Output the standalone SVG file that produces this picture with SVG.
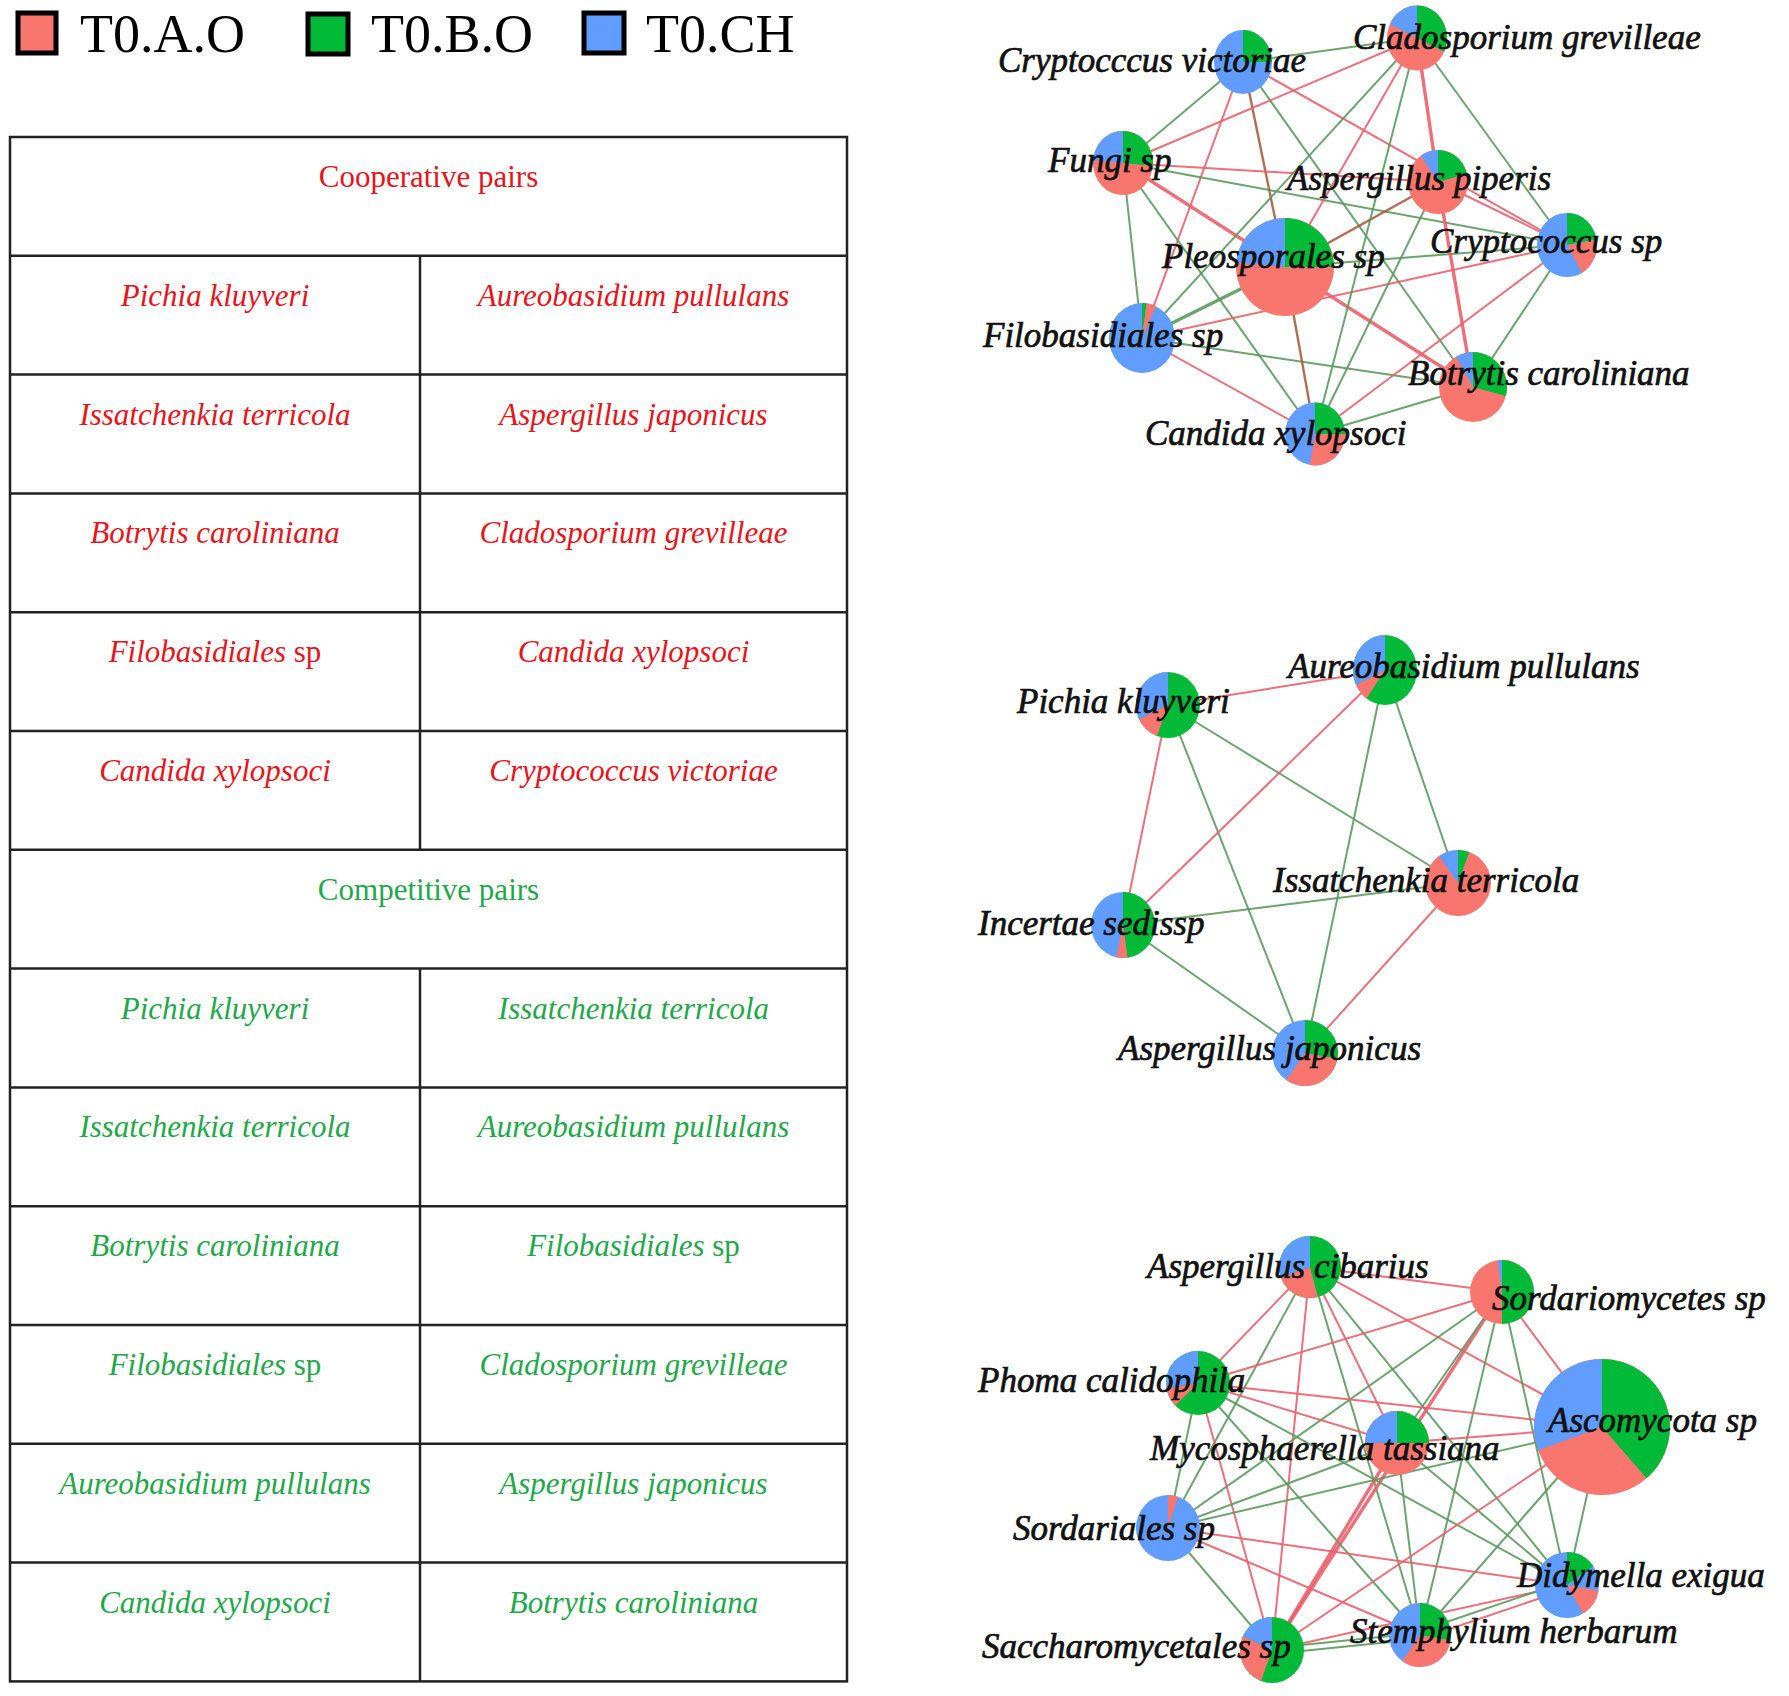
<svg xmlns="http://www.w3.org/2000/svg" width="1789" height="1696" viewBox="0 0 1789 1696">
<style>
.bg{fill:#ffffff}
.leg{stroke:#000;stroke-width:5}
.legt{font-family:"Liberation Serif","Times New Roman",serif;font-size:54px;fill:#000}
.grid{stroke:#222;stroke-width:2.5;fill:none}
.th{font-family:"Liberation Serif","Times New Roman",serif;font-size:31px;text-anchor:middle}
.td{font-family:"Liberation Serif","Times New Roman",serif;font-size:31px;font-style:italic;text-anchor:middle}
.up{font-style:normal}
.red{fill:#e8141c}
.grn{fill:#1fa84a}
.R{fill:#F8766D}
.G{fill:#00BA38}
.B{fill:#619CFF}
.lbl{font-family:"Liberation Serif","Times New Roman",serif;font-size:35px;font-style:italic;fill:#111;stroke:#111;stroke-width:0.7}
.eg{stroke:#5b9a5e;stroke-width:2;fill:none;stroke-opacity:0.9}
.er{stroke:#ea5f6b;stroke-width:2;fill:none;stroke-opacity:0.9}
.eb{stroke:#a5603f;stroke-width:2.4;fill:none;stroke-opacity:0.9}
.tk{stroke-width:3.4}
</style>
<rect class="bg" x="0" y="0" width="1789" height="1696"/>

<g id="legend">
<rect class="leg R" x="18" y="13" width="38" height="40"/>
<text class="legt" x="80" y="52">T0.A.O</text>
<rect class="leg G" x="308" y="14" width="40" height="40"/>
<text class="legt" x="371" y="52">T0.B.O</text>
<rect class="leg B" x="584" y="13" width="40" height="40"/>
<text class="legt" x="646" y="52">T0.CH</text>
</g>

<g id="table">
<rect class="grid" x="10" y="137" width="837" height="1544.4"/>
<line class="grid" x1="10" y1="255.8" x2="847" y2="255.8"/>
<line class="grid" x1="10" y1="374.6" x2="847" y2="374.6"/>
<line class="grid" x1="10" y1="493.4" x2="847" y2="493.4"/>
<line class="grid" x1="10" y1="612.2" x2="847" y2="612.2"/>
<line class="grid" x1="10" y1="731" x2="847" y2="731"/>
<line class="grid" x1="10" y1="849.8" x2="847" y2="849.8"/>
<line class="grid" x1="10" y1="968.6" x2="847" y2="968.6"/>
<line class="grid" x1="10" y1="1087.4" x2="847" y2="1087.4"/>
<line class="grid" x1="10" y1="1206.2" x2="847" y2="1206.2"/>
<line class="grid" x1="10" y1="1325" x2="847" y2="1325"/>
<line class="grid" x1="10" y1="1443.8" x2="847" y2="1443.8"/>
<line class="grid" x1="10" y1="1562.6" x2="847" y2="1562.6"/>
<line class="grid" x1="420" y1="255.8" x2="420" y2="849.8"/>
<line class="grid" x1="420" y1="968.6" x2="420" y2="1681.4"/>

<text class="th red" x="428.5" y="187">Cooperative pairs</text>
<text class="td red" x="215" y="306">Pichia kluyveri</text>
<text class="td red" x="633.5" y="306">Aureobasidium pullulans</text>
<text class="td red" x="215" y="425">Issatchenkia terricola</text>
<text class="td red" x="633.5" y="425">Aspergillus japonicus</text>
<text class="td red" x="215" y="543">Botrytis caroliniana</text>
<text class="td red" x="633.5" y="543">Cladosporium grevilleae</text>
<text class="td red" x="215" y="662">Filobasidiales <tspan class="up">sp</tspan></text>
<text class="td red" x="633.5" y="662">Candida xylopsoci</text>
<text class="td red" x="215" y="781">Candida xylopsoci</text>
<text class="td red" x="633.5" y="781">Cryptococcus victoriae</text>

<text class="th grn" x="428.5" y="900">Competitive pairs</text>
<text class="td grn" x="215" y="1019">Pichia kluyveri</text>
<text class="td grn" x="633.5" y="1019">Issatchenkia terricola</text>
<text class="td grn" x="215" y="1137">Issatchenkia terricola</text>
<text class="td grn" x="633.5" y="1137">Aureobasidium pullulans</text>
<text class="td grn" x="215" y="1256">Botrytis caroliniana</text>
<text class="td grn" x="633.5" y="1256">Filobasidiales <tspan class="up">sp</tspan></text>
<text class="td grn" x="215" y="1375">Filobasidiales <tspan class="up">sp</tspan></text>
<text class="td grn" x="633.5" y="1375">Cladosporium grevilleae</text>
<text class="td grn" x="215" y="1494">Aureobasidium pullulans</text>
<text class="td grn" x="633.5" y="1494">Aspergillus japonicus</text>
<text class="td grn" x="215" y="1613">Candida xylopsoci</text>
<text class="td grn" x="633.5" y="1613">Botrytis caroliniana</text>
</g>

<g id="connectors">
<!-- network 1 -->
<line class="eg" x1="1243" y1="62" x2="1417" y2="38"/>
<line class="eg" x1="1243" y1="62" x2="1123" y2="163"/>
<line class="er" x1="1243" y1="62" x2="1142" y2="338"/>
<line class="eb" x1="1243" y1="62" x2="1285" y2="267"/>
<line class="eg" x1="1243" y1="62" x2="1473" y2="387"/>
<line class="er" x1="1243" y1="62" x2="1567" y2="245"/>
<line class="er" x1="1123" y1="163" x2="1417" y2="38"/>
<line class="er" x1="1123" y1="163" x2="1438" y2="182"/>
<line class="eg" x1="1123" y1="163" x2="1567" y2="245"/>
<line class="er tk" x1="1123" y1="163" x2="1285" y2="267"/>
<line class="eg" x1="1123" y1="163" x2="1315" y2="434"/>
<line class="eg" x1="1123" y1="163" x2="1142" y2="338"/>
<line class="eg" x1="1142" y1="338" x2="1417" y2="38"/>
<line class="eg tk" x1="1142" y1="338" x2="1285" y2="267"/>
<line class="er" x1="1142" y1="338" x2="1567" y2="245"/>
<line class="eg" x1="1142" y1="338" x2="1473" y2="387"/>
<line class="er" x1="1142" y1="338" x2="1315" y2="434"/>
<line class="eb" x1="1285" y1="267" x2="1315" y2="434"/>
<line class="eb" x1="1285" y1="267" x2="1438" y2="182"/>
<line class="er tk" x1="1285" y1="267" x2="1473" y2="387"/>
<line class="eg" x1="1285" y1="267" x2="1567" y2="245"/>
<line class="er" x1="1285" y1="267" x2="1417" y2="38"/>
<line class="er tk" x1="1417" y1="38" x2="1438" y2="182"/>
<line class="eg" x1="1417" y1="38" x2="1567" y2="245"/>
<line class="eg" x1="1417" y1="38" x2="1315" y2="434"/>
<line class="er tk" x1="1438" y1="182" x2="1473" y2="387"/>
<line class="er" x1="1438" y1="182" x2="1567" y2="245"/>
<line class="eg" x1="1438" y1="182" x2="1315" y2="434"/>
<line class="eg" x1="1567" y1="245" x2="1473" y2="387"/>
<line class="er" x1="1567" y1="245" x2="1315" y2="434"/>
<line class="eg" x1="1473" y1="387" x2="1315" y2="434"/>
<!-- network 2 -->
<line class="er" x1="1168" y1="705" x2="1385" y2="670"/>
<line class="er" x1="1168" y1="705" x2="1123" y2="925"/>
<line class="eg" x1="1168" y1="705" x2="1305" y2="1053"/>
<line class="eg" x1="1168" y1="705" x2="1458" y2="883"/>
<line class="er" x1="1385" y1="670" x2="1123" y2="925"/>
<line class="eg" x1="1385" y1="670" x2="1305" y2="1053"/>
<line class="eg" x1="1385" y1="670" x2="1458" y2="883"/>
<line class="eg" x1="1123" y1="925" x2="1458" y2="883"/>
<line class="eg" x1="1123" y1="925" x2="1305" y2="1053"/>
<line class="er" x1="1458" y1="883" x2="1305" y2="1053"/>
<!-- network 3 -->
<line class="er" x1="1310" y1="1267" x2="1502" y2="1292"/>
<line class="er" x1="1310" y1="1267" x2="1198" y2="1383"/>
<line class="eg" x1="1310" y1="1267" x2="1168" y2="1528"/>
<line class="er" x1="1310" y1="1267" x2="1272" y2="1650"/>
<line class="eg" x1="1310" y1="1267" x2="1420" y2="1635"/>
<line class="er" x1="1310" y1="1267" x2="1397" y2="1443"/>
<line class="eg" x1="1310" y1="1267" x2="1567" y2="1585"/>
<line class="er" x1="1310" y1="1267" x2="1602" y2="1427"/>
<line class="er" x1="1502" y1="1292" x2="1198" y2="1383"/>
<line class="eg" x1="1502" y1="1292" x2="1168" y2="1528"/>
<line class="er tk" x1="1502" y1="1292" x2="1272" y2="1650"/>
<line class="eg" x1="1502" y1="1292" x2="1420" y2="1635"/>
<line class="eg" x1="1502" y1="1292" x2="1567" y2="1585"/>
<line class="er" x1="1502" y1="1292" x2="1602" y2="1427"/>
<line class="eg" x1="1502" y1="1292" x2="1397" y2="1443"/>
<line class="er" x1="1198" y1="1383" x2="1602" y2="1427"/>
<line class="er" x1="1198" y1="1383" x2="1397" y2="1443"/>
<line class="eg" x1="1198" y1="1383" x2="1567" y2="1585"/>
<line class="eg" x1="1198" y1="1383" x2="1420" y2="1635"/>
<line class="eg" x1="1198" y1="1383" x2="1168" y2="1528"/>
<line class="er" x1="1198" y1="1383" x2="1272" y2="1650"/>
<line class="er" x1="1397" y1="1443" x2="1602" y2="1427"/>
<line class="eg" x1="1397" y1="1443" x2="1168" y2="1528"/>
<line class="er tk" x1="1397" y1="1443" x2="1272" y2="1650"/>
<line class="eg" x1="1397" y1="1443" x2="1420" y2="1635"/>
<line class="eg" x1="1397" y1="1443" x2="1567" y2="1585"/>
<line class="er" x1="1602" y1="1427" x2="1272" y2="1650"/>
<line class="eg" x1="1602" y1="1427" x2="1420" y2="1635"/>
<line class="eg" x1="1602" y1="1427" x2="1567" y2="1585"/>
<line class="eg" x1="1602" y1="1427" x2="1168" y2="1528"/>
<line class="er" x1="1168" y1="1528" x2="1567" y2="1585"/>
<line class="er" x1="1168" y1="1528" x2="1420" y2="1635"/>
<line class="eg" x1="1168" y1="1528" x2="1272" y2="1650"/>
<line class="eg" x1="1272" y1="1648" x2="1420" y2="1633"/>
<line class="eg" x1="1272" y1="1654" x2="1420" y2="1639"/>
<line class="er" x1="1272" y1="1650" x2="1567" y2="1585"/>
<line class="eg" x1="1420" y1="1631" x2="1567" y2="1581"/>
<line class="er" x1="1420" y1="1639" x2="1567" y2="1589"/>
</g>

<!-- network 1 nodes -->
<g id="n-cv"><g transform="translate(1243,62) scale(1,1.1)"><circle class="B" r="29"/><path class="G" d="M0,0 L0,-29 A29,29 0 0 1 29,0 Z"/></g><text class="lbl" x="998" y="72">Cryptocccus victoriae</text></g>
<g id="n-cg"><g transform="translate(1417,38) scale(1,1.08)"><circle class="R" r="30"/><path class="G" d="M0,0 L0,-30 A30,30 0 0 1 27.2,12.7 Z"/><path class="B" d="M0,0 L-27.2,-12.7 A30,30 0 0 1 0,-30 Z"/></g><text class="lbl" x="1353" y="49">Cladosporium grevilleae</text></g>
<g id="n-f"><g transform="translate(1123,163) scale(1,1.07)"><circle class="R" r="30"/><path class="G" d="M0,0 L0,-30 A30,30 0 0 1 29.9,2.6 Z"/><path class="B" d="M0,0 L-29.9,-2.6 A30,30 0 0 1 0,-30 Z"/></g><text class="lbl" x="1048" y="172">Fungi sp</text></g>
<g id="n-ap"><g transform="translate(1438,182) scale(1,1.07)"><circle class="R" r="30"/><path class="G" d="M0,0 L0,-30 A30,30 0 0 1 29,-7.8 Z"/><path class="B" d="M0,0 L-17.2,-24.6 A30,30 0 0 1 0,-30 Z"/></g><text class="lbl" x="1287" y="190">Aspergillus piperis</text></g>
<g id="n-p"><g transform="translate(1285,267)"><circle class="R" r="49"/><path class="G" d="M0,0 L0,-49 A49,49 0 0 1 49,0 Z"/><path class="B" d="M0,0 L-48.8,-4.3 A49,49 0 0 1 0,-49 Z"/></g><text class="lbl" x="1162" y="268">Pleosporales sp</text></g>
<g id="n-cs"><g transform="translate(1567,245) scale(1,1.07)"><circle class="B" r="30"/><path class="G" d="M0,0 L0,-30 A30,30 0 0 1 29.5,-5.2 Z"/><path class="R" d="M0,0 L29.5,-5.2 A30,30 0 0 1 15,26 Z"/></g><text class="lbl" x="1430" y="253">Cryptococcus sp</text></g>
<g id="n-fb"><g transform="translate(1142,338) scale(1,1.06)"><circle class="B" r="33"/><path class="G" d="M0,0 L0,-33 A33,33 0 0 1 4.6,-32.7 Z"/><path class="R" d="M0,0 L4.6,-32.7 A33,33 0 0 1 13.9,-29.9 Z"/></g><text class="lbl" x="983" y="347">Filobasidiales sp</text></g>
<g id="n-b"><g transform="translate(1473,387) scale(1,1.03)"><circle class="R" r="34"/><path class="G" d="M0,0 L0,-34 A34,34 0 0 1 32.8,8.8 Z"/><path class="B" d="M0,0 L-17,-29.4 A34,34 0 0 1 0,-34 Z"/></g><text class="lbl" x="1408" y="385">Botrytis caroliniana</text></g>
<g id="n-cx"><g transform="translate(1315,434) scale(1,1.05)"><circle class="B" r="30"/><path class="G" d="M0,0 L0,-30 A30,30 0 0 1 30,0 Z"/><path class="R" d="M0,0 L30,0 A30,30 0 0 1 -5.2,29.5 Z"/></g><text class="lbl" x="1145" y="445">Candida xylopsoci</text></g>

<!-- network 2 nodes -->
<g id="n-pk"><g transform="translate(1168,705) scale(1,1.03)"><circle class="G" r="32"/><path class="R" d="M0,0 L-10.9,30.1 A32,32 0 0 1 -29,13.5 Z"/><path class="B" d="M0,0 L-29,13.5 A32,32 0 0 1 0,-32 Z"/></g><text class="lbl" x="1017" y="713">Pichia kluyveri</text></g>
<g id="n-au"><g transform="translate(1385,670) scale(1,1.09)"><circle class="G" r="32"/><path class="R" d="M0,0 L-18.4,26.2 A32,32 0 0 1 -29,13.5 Z"/><path class="B" d="M0,0 L-29,13.5 A32,32 0 0 1 0,-32 Z"/></g><text class="lbl" x="1288" y="678">Aureobasidium pullulans</text></g>
<g id="n-it"><g transform="translate(1458,883)"><circle class="R" r="33"/><path class="G" d="M0,0 L0,-33 A33,33 0 0 1 11.3,-31 Z"/><path class="B" d="M0,0 L-18.9,-27 A33,33 0 0 1 0,-33 Z"/></g><text class="lbl" x="1273" y="892">Issatchenkia terricola</text></g>
<g id="n-is"><g transform="translate(1123,925) scale(1,1.03)"><circle class="B" r="32"/><path class="G" d="M0,0 L0,-32 A32,32 0 0 1 4.5,31.7 Z"/><path class="R" d="M0,0 L4.5,31.7 A32,32 0 0 1 -6.7,31.3 Z"/></g><text class="lbl" x="978" y="935">Incertae sedissp</text></g>
<g id="n-aj"><g transform="translate(1305,1053)"><circle class="B" r="33"/><path class="G" d="M0,0 L0,-33 A33,33 0 0 1 32.5,5.7 Z"/><path class="R" d="M0,0 L32.5,5.7 A33,33 0 0 1 -18.9,27 Z"/></g><text class="lbl" x="1118" y="1060">Aspergillus japonicus</text></g>

<!-- network 3 nodes -->
<g id="n-ac"><g transform="translate(1310,1267)"><circle class="G" r="31"/><path class="R" d="M0,0 L8,29.9 A31,31 0 0 1 -29.1,10.6 Z"/><path class="B" d="M0,0 L-29.1,10.6 A31,31 0 0 1 0,-31 Z"/></g><text class="lbl" x="1147" y="1278">Aspergillus cibarius</text></g>
<g id="n-so"><g transform="translate(1502,1292)"><circle class="R" r="32"/><path class="G" d="M0,-32 A32,32 0 0 1 0,32 Z"/><path class="B" d="M0,0 L-4.5,-31.7 A32,32 0 0 1 0,-32 Z"/></g><text class="lbl" x="1492" y="1310">Sordariomycetes sp</text></g>
<g id="n-pc"><g transform="translate(1198,1383)"><circle class="G" r="32"/><path class="R" d="M0,0 L-22.6,22.6 A32,32 0 0 1 -31.5,5.6 Z"/><path class="B" d="M0,0 L-31.5,5.6 A32,32 0 0 1 0,-32 Z"/></g><text class="lbl" x="978" y="1392">Phoma calidophila</text></g>
<g id="n-mt"><g transform="translate(1397,1443)"><circle class="R" r="32"/><path class="G" d="M0,0 L0,-32 A32,32 0 0 1 32,0 Z"/><path class="B" d="M0,0 L-32,0 A32,32 0 0 1 0,-32 Z"/></g><text class="lbl" x="1150" y="1460">Mycosphaerella tassiana</text></g>
<g id="n-as"><g transform="translate(1602,1427)"><circle class="R" r="68"/><path class="G" d="M0,0 L0,-68 A68,68 0 0 1 44.6,51.3 Z"/><path class="B" d="M0,0 L-63.9,23.3 A68,68 0 0 1 0,-68 Z"/></g><text class="lbl" x="1548" y="1432">Ascomycota sp</text></g>
<g id="n-sa"><g transform="translate(1168,1528) scale(1,1.03)"><circle class="B" r="32"/><path class="R" d="M0,0 L0,-32 A32,32 0 0 1 9.9,-30.4 Z"/></g><text class="lbl" x="1013" y="1540">Sordariales sp</text></g>
<g id="n-de"><g transform="translate(1567,1585) scale(1,1.03)"><circle class="B" r="32"/><path class="G" d="M0,0 L0,-32 A32,32 0 0 1 26.2,-18.4 Z"/><path class="R" d="M0,0 L31.5,5.6 A32,32 0 0 1 16,27.7 Z"/></g><text class="lbl" x="1517" y="1587">Didymella exigua</text></g>
<g id="n-st"><g transform="translate(1420,1635) scale(1,1.03)"><circle class="B" r="31"/><path class="G" d="M0,0 L0,-31 A31,31 0 0 1 30.5,5.4 Z"/><path class="R" d="M0,0 L30.5,5.4 A31,31 0 0 1 -17.8,25.4 Z"/></g><text class="lbl" x="1350" y="1643">Stemphylium herbarum</text></g>
<g id="n-sc"><g transform="translate(1272,1650) scale(1,1.03)"><circle class="G" r="32"/><path class="R" d="M0,0 L-10.9,30.1 A32,32 0 0 1 -29,-13.5 Z"/><path class="B" d="M0,0 L-29,-13.5 A32,32 0 0 1 0,-32 Z"/></g><text class="lbl" x="982" y="1658">Saccharomycetales sp</text></g>
</svg>
